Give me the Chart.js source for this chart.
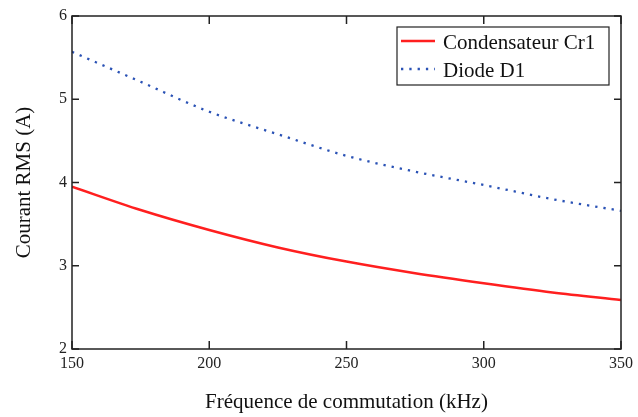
<!DOCTYPE html>
<html>
<head>
<meta charset="utf-8">
<script src="https://cdn.jsdelivr.net/npm/chart.js@4/dist/chart.umd.min.js"></script>
<style>
  html, body { margin: 0; padding: 0; background: #fff; }
  #wrap { width: 638px; height: 417px; position: relative; }
</style>
</head>
<body>
<div id="wrap"><canvas id="c" width="638" height="417"></canvas></div>
<script>
// fréquence de commutation (kHz)
var frequences = [150, 175, 200, 225, 250, 275, 300, 325, 350];
// courant RMS (A)
var condensateurCr1 = [3.95, 3.67, 3.43, 3.22, 3.05, 2.91, 2.79, 2.68, 2.59];
var diodeD1 = [5.57, 5.21, 4.85, 4.58, 4.32, 4.13, 3.97, 3.80, 3.66];
var xTicks = [150, 200, 250, 300, 350];
var yTicks = [2, 3, 4, 5, 6];

var serif = '"Liberation Serif", "DejaVu Serif", serif';

function pts(ys) {
    return frequences.map(function (f, i) { return { x: f, y: ys[i] }; });
}

// cadre, graduations intérieures et légende
var cadre = {
    id: 'cadre',
    afterDraw: function (chart) {
        var ctx = chart.ctx;
        var a = chart.chartArea;
        var sx = chart.scales.x, sy = chart.scales.y;
        ctx.save();
        ctx.strokeStyle = '#222';
        ctx.lineWidth = 1.5;
        ctx.strokeRect(a.left, a.top, a.right - a.left, a.bottom - a.top);
        ctx.beginPath();
        xTicks.forEach(function (v) {
            var px = sx.getPixelForValue(v);
            ctx.moveTo(px, a.bottom); ctx.lineTo(px, a.bottom - 8);
            ctx.moveTo(px, a.top); ctx.lineTo(px, a.top + 8);
        });
        yTicks.forEach(function (v) {
            var py = sy.getPixelForValue(v);
            ctx.moveTo(a.left, py); ctx.lineTo(a.left + 7, py);
            ctx.moveTo(a.right, py); ctx.lineTo(a.right - 7, py);
        });
        ctx.stroke();

        // légende
        var lx = 397, ly = 27, lw = 212, lh = 58;
        ctx.fillStyle = '#fff';
        ctx.fillRect(lx, ly, lw, lh);
        ctx.strokeStyle = '#222';
        ctx.lineWidth = 1.2;
        ctx.strokeRect(lx, ly, lw, lh);
        ctx.font = '21px ' + serif;
        ctx.textBaseline = 'alphabetic';
        ctx.textAlign = 'left';
        chart.data.datasets.forEach(function (ds, i) {
            var y = ly + 14 + i * 28;
            ctx.beginPath();
            ctx.strokeStyle = ds.borderColor;
            ctx.lineWidth = ds.borderWidth;
            ctx.setLineDash(ds.borderDash || []);
            ctx.moveTo(lx + 4, y);
            ctx.lineTo(lx + 38, y);
            ctx.stroke();
            ctx.setLineDash([]);
            ctx.fillStyle = '#111';
            ctx.fillText(ds.label, lx + 46, y + 8);
        });
        ctx.restore();
    }
};

new Chart(document.getElementById('c'), {
    type: 'line',
    data: {
        datasets: [
            {
                label: 'Condensateur Cr1',
                data: pts(condensateurCr1),
                borderColor: '#ff1f1f',
                borderWidth: 2.5,
                pointRadius: 0,
                cubicInterpolationMode: 'monotone',
                fill: false
            },
            {
                label: 'Diode D1',
                data: pts(diodeD1),
                borderColor: '#2a52b5',
                borderWidth: 2.3,
                borderDash: [2.3, 6],
                pointRadius: 0,
                cubicInterpolationMode: 'monotone',
                fill: false
            }
        ]
    },
    options: {
        responsive: false,
        animation: false,
        layout: { padding: { left: 0, top: 16, right: 16, bottom: 0 } },
        plugins: { legend: { display: false }, tooltip: { enabled: false } },
        scales: {
            x: {
                type: 'linear',
                min: 150, max: 350,
                afterBuildTicks: function (s) { s.ticks = xTicks.map(function (v) { return { value: v }; }); },
                afterFit: function (s) { s.height = 68; },
                grid: { display: false, drawTicks: false },
                border: { display: false },
                ticks: { padding: 5, color: '#222', font: { family: serif, size: 16 } },
                title: {
                    display: true,
                    text: 'Fréquence de commutation (kHz)',
                    color: '#111',
                    font: { family: serif, size: 21 },
                    padding: { top: 0, bottom: 2 }
                }
            },
            y: {
                min: 2, max: 6,
                afterBuildTicks: function (s) { s.ticks = yTicks.map(function (v) { return { value: v }; }); },
                afterFit: function (s) { s.width = 72; },
                grid: { display: false, drawTicks: false },
                border: { display: false },
                ticks: { padding: 5, color: '#222', font: { family: serif, size: 16 } },
                title: {
                    display: true,
                    text: 'Courant RMS (A)',
                    color: '#111',
                    font: { family: serif, size: 21 },
                    padding: { top: 12, bottom: 0 }
                }
            }
        }
    },
    plugins: [cadre]
});
</script>
</body>
</html>
